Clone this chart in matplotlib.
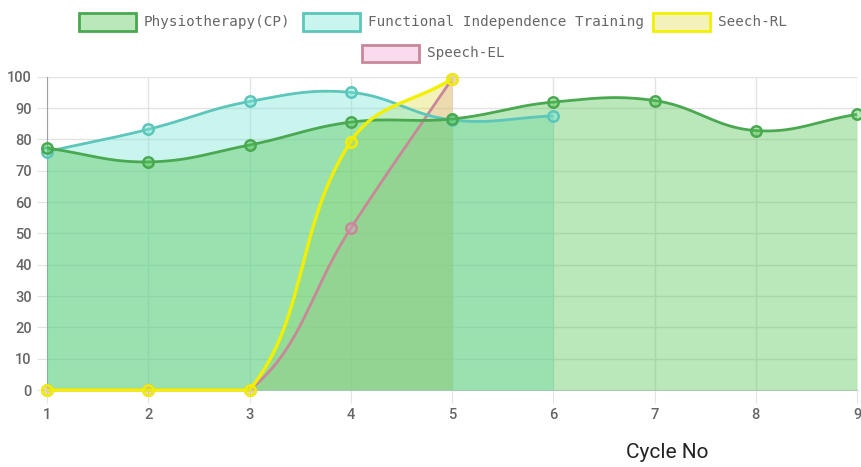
import numpy as np
import matplotlib
matplotlib.use("Agg")
import matplotlib.pyplot as plt
from matplotlib.patches import Rectangle

# data
cycles = [1, 2, 3, 4, 5, 6, 7, 8, 9]
physio = [77.2, 72.8, 78.2, 85.5, 86.5, 91.9, 92.4, 82.8, 88.0]
functional = [76.1, 83.2, 92.1, 95.0, 86.2, 87.5]
speech_rl = [0, 0, 0, 79.3, 99.3]
speech_el = [0, 0, 0, 51.6, 99.3]
labels = ["Physiotherapy(CP)", "Functional Independence Training", "Seech-RL", "Speech-EL"]

W, H = 861, 467
x0, x1 = 47, 857      # pixel x of cycle 1 / cycle 9
y0, y1 = 390, 76.7    # pixel y of value 0 / 100
sx = (x1 - x0) / 8.0
sy = (y0 - y1) / 100.0


def smooth(xs, ys, t=0.4, n=40):
    # chart.js style bezier spline (tension 0.4, control points capped to area)
    px = np.array(xs, float) * sx
    py = np.array(ys, float) * sy
    m = len(px)
    cp = []
    for i in range(m):
        a = (px[max(i - 1, 0)], py[max(i - 1, 0)])
        b = (px[i], py[i])
        c = (px[min(i + 1, m - 1)], py[min(i + 1, m - 1)])
        d01 = np.hypot(b[0] - a[0], b[1] - a[1])
        d12 = np.hypot(c[0] - b[0], c[1] - b[1])
        s01 = d01 / (d01 + d12) if d01 + d12 else 0
        s12 = d12 / (d01 + d12) if d01 + d12 else 0
        fa, fb = t * s01, t * s12
        p = [b[0] - fa * (c[0] - a[0]), b[1] - fa * (c[1] - a[1])]
        q = [b[0] + fb * (c[0] - a[0]), b[1] + fb * (c[1] - a[1])]
        for r in (p, q):
            r[0] = min(max(r[0], 1 * sx), 9 * sx)
            r[1] = min(max(r[1], 0), 100 * sy)
        cp.append((p, q))
    ox, oy = [], []
    tt = np.linspace(0, 1, n)
    for i in range(m - 1):
        P0 = np.array([px[i], py[i]])
        P1 = np.array(cp[i][1])
        P2 = np.array(cp[i + 1][0])
        P3 = np.array([px[i + 1], py[i + 1]])
        seg = ((1 - tt) ** 3)[:, None] * P0 + (3 * (1 - tt) ** 2 * tt)[:, None] * P1 \
            + (3 * (1 - tt) * tt ** 2)[:, None] * P2 + (tt ** 3)[:, None] * P3
        ox.extend(seg[:, 0])
        oy.extend(seg[:, 1])
    return np.array(ox) / sx, np.array(oy) / sy


# line colour, fill colour, line width, zorder of line
series = [
    (physio, "#4aa851", (0.30, 0.77, 0.30, 0.38), 2, 9),
    (functional, "#5cc6ba", (0.47, 0.90, 0.84, 0.4), 2, 8),
    (speech_rl, "#f2f000", (0.86, 0.86, 0.25, 0.36), 2.4, 10),
    (speech_el, "#c9879a", (0.92, 0.58, 0.80, 0.32), 2, 7),
]

fig = plt.figure(figsize=(W / 100, H / 100), dpi=100)
ax = fig.add_axes([x0 / W, (H - y0) / H, (x1 - x0) / W, (y0 - y1) / H])

# fills: last dataset at the bottom, first on top
for k, (vals, lc, fc, lw, zl) in enumerate(reversed(series)):
    xs = cycles[:len(vals)]
    cx, cy = smooth(xs, vals)
    ax.fill_between(cx, 0, cy, color=fc, lw=0, zorder=1 + k)
for vals, lc, fc, lw, zl in series:
    xs = cycles[:len(vals)]
    cx, cy = smooth(xs, vals)
    ax.plot(cx, cy, color=lc, lw=lw, zorder=zl, clip_on=False, solid_capstyle="butt")
    ax.plot(xs, vals, "o", ms=7.5, mfc=fc, mec=lc, mew=1.8, zorder=zl + 0.5, clip_on=False)

ax.set_xlim(1, 9)
ax.set_ylim(0, 100)
ax.set_xticks(cycles)
ax.set_yticks(range(0, 101, 10))
ax.grid(True, color="#e3e3e3", lw=1, zorder=0)
ax.set_axisbelow(True)
for s in ["top", "right"]:
    ax.spines[s].set_visible(False)
ax.spines["left"].set_color("#a0a0a0")
ax.spines["bottom"].set_color("#c8c8c8")
ax.tick_params(axis="both", colors="#e3e3e3", labelcolor="#666666", labelsize=10.5)
ax.tick_params(axis="y", length=7, pad=4)
ax.tick_params(axis="x", length=9, pad=4)
for lab in ax.get_xticklabels() + ax.get_yticklabels():
    lab.set_fontfamily("Roboto")
    lab.set_fontweight("medium")

fig.text(667 / W, 1 - 452 / H, "Cycle No", fontsize=15, family="Roboto",
         color="#222222", ha="center", va="center")

# legend drawn by hand (two centred rows)
legend_pos = [(79, 22), (303, 22), (653, 22), (362, 53)]
for (vals, lc, fc, lw, zl), name, (lx, ly) in zip(series, labels, legend_pos):
    fig.add_artist(Rectangle((lx / W, 1 - (ly + 8.5) / H), 57 / W, 17 / H,
                             transform=fig.transFigure, facecolor=fc, edgecolor=lc, lw=2))
    fig.text((lx + 65) / W, 1 - ly / H, name, fontsize=10.3, family="DejaVu Sans Mono",
             color="#666666", ha="left", va="center")

fig.savefig("out.png", dpi=100)
